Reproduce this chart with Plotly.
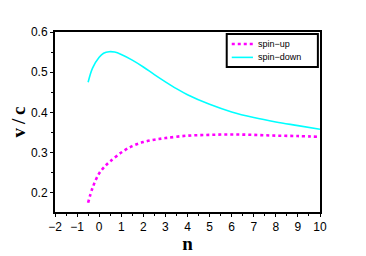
import plotly.graph_objects as go

n_down = [-0.5, -0.3, 0.0, 0.2, 0.45, 0.7, 1.0, 1.5, 2.0, 2.5, 3.0, 3.5, 4.0, 5.0, 6.0, 7.0, 8.0, 9.0, 10.0]
v_down = [0.475, 0.510, 0.537, 0.547, 0.551, 0.550, 0.544, 0.530, 0.513, 0.494, 0.476, 0.459, 0.444, 0.420, 0.401, 0.387, 0.376, 0.367, 0.358]

n_up = [-0.5, -0.3, 0.0, 0.3, 0.5, 1.0, 1.5, 2.0, 2.5, 3.0, 4.0, 5.0, 6.0, 7.0, 8.0, 9.0, 10.0]
v_up = [0.175, 0.212, 0.248, 0.268, 0.278, 0.300, 0.316, 0.326, 0.332, 0.336, 0.342, 0.344, 0.345, 0.344, 0.342, 0.341, 0.339]

series_names = ["spin\u2212up", "spin\u2212down"]

x_ticks = list(range(-2, 11))
x_labels = ["\u22122", "\u22121"] + [str(i) for i in range(0, 11)]
y_ticks = [0.2, 0.3, 0.4, 0.5, 0.6]

up_style = dict(color="#ff00ff", width=2.6, dash="dot")
down_style = dict(color="#00ffff", width=1.6)

fig = go.Figure()
fig.add_trace(go.Scatter(x=n_up, y=v_up, mode="lines", name=series_names[0],
                         line=dict(**up_style, shape="spline"), showlegend=False))
fig.add_trace(go.Scatter(x=n_down, y=v_down, mode="lines", name=series_names[1],
                         line=dict(**down_style, shape="spline"), showlegend=False))

axis_common = dict(showline=True, linecolor="black", linewidth=2, mirror=True,
                   ticks="outside", ticklen=3, tickwidth=1, tickcolor="black",
                   showgrid=False, zeroline=False, automargin=False,
                   tickfont=dict(family="Liberation Sans", size=12, color="black"))

fig.update_xaxes(range=[-2, 10], tickvals=x_ticks, ticktext=x_labels,
                 minor=dict(ticks="outside", ticklen=2, dtick=0.5, tick0=0, tickcolor="black"),
                 title=dict(text="<b>n</b>", font=dict(family="Liberation Serif", size=19, color="black"), standoff=3),
                 **axis_common)
fig.update_yaxes(range=[0.152, 0.6], tickvals=y_ticks, tickformat=".1f",
                 minor=dict(ticks="outside", ticklen=2, dtick=0.05, tick0=0, tickcolor="black"),
                 title=dict(text="<b>v\u2009/\u2009c</b>", font=dict(family="Liberation Serif", size=19, color="black"), standoff=3),
                 **axis_common)

# custom compact legend (box, sample lines, labels) in paper coordinates
fig.add_shape(type="rect", xref="paper", yref="paper", x0=0.648, x1=0.992, y0=0.806, y1=0.989,
              line=dict(color="black", width=2), fillcolor="white", layer="above")
fig.add_shape(type="line", xref="paper", yref="paper", x0=0.667, x1=0.747, y0=0.933, y1=0.933,
              line=up_style, layer="above")
fig.add_shape(type="line", xref="paper", yref="paper", x0=0.667, x1=0.747, y0=0.859, y1=0.859,
              line=down_style, layer="above")
for name, yy in zip(series_names, [0.933, 0.859]):
    fig.add_annotation(xref="paper", yref="paper", x=0.757, y=yy, text=name, showarrow=False,
                       xanchor="left", yanchor="middle",
                       font=dict(family="Liberation Sans", size=9, color="black"))

fig.update_layout(
    width=350, height=246,
    margin=dict(l=47, r=38, t=24, b=42, autoexpand=False),
    plot_bgcolor="white", paper_bgcolor="white",
    showlegend=False,
)

fig.write_html("out.html")
